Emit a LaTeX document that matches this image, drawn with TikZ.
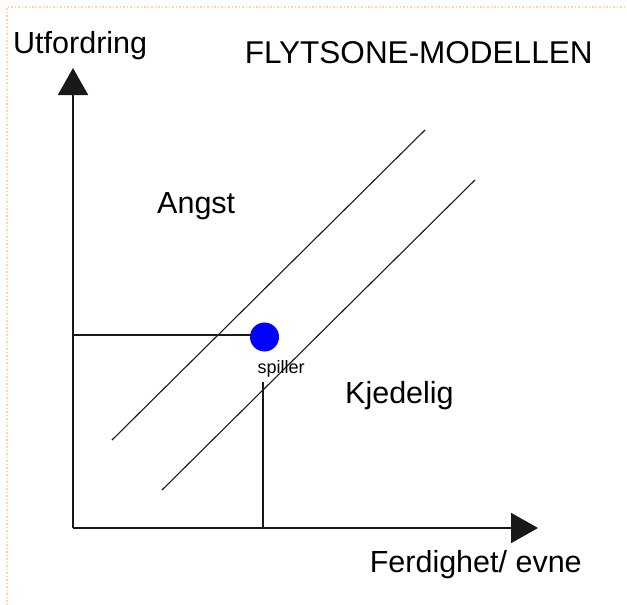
\documentclass[tikz,border=0pt]{standalone}
\usepackage{fontspec}
\setmainfont{Liberation Sans}
\usetikzlibrary{arrows.meta}
\definecolor{frameyel}{RGB}{255,214,140}
\definecolor{linegray}{RGB}{25,25,25}
\tikzset{
  lbl/.style={anchor=base west,inner sep=0pt,font=\fontsize{30.5}{36}\selectfont},
  ttl/.style={anchor=base west,inner sep=0pt,font=\fontsize{31.5}{36}\selectfont},
  smalllbl/.style={anchor=base west,inner sep=0pt,font=\fontsize{18}{22}\selectfont},
  axis/.style={draw=linegray,line width=2pt,-{Triangle[length=27pt,width=30pt]}},
  thin/.style={draw=linegray,line width=1.3pt},
  zone/.style={draw=linegray,line width=1.1pt}
}
\begin{document}
\begin{tikzpicture}[x=1pt,y=-1pt]
\useasboundingbox (0,0) rectangle (627,605);
\draw[frameyel,line width=1.5pt,dotted] (7,605) -- (7,7) -- (627,7);
% axes
\coordinate (O) at (73,528);
\coordinate (ytip) at (73,68);
\coordinate (xtip) at (538,528);
\draw[axis] (O) -- (ytip);
\draw[axis] (O) -- (xtip);
% zone lines
\coordinate (a1) at (112,440);
\coordinate (a2) at (425,130);
\coordinate (b1) at (162,490);
\coordinate (b2) at (475,180);
\draw[zone] (a1) -- (a2);
\draw[zone] (b1) -- (b2);
% player
\coordinate (h0) at (73,335);
\draw[thin] (h0) -- (264,335);
\node[circle,fill=blue,minimum size=29pt,inner sep=0pt] (dot) at (264.5,337) {};
\coordinate (v0) at (263,382);
\draw[thin] (v0) -- (v0 |- O);
% labels
\node[lbl] (uf) at (13,53) {Utfordring};
\node[ttl] (title) at (244.6,63) {FLYTSONE-MODELLEN};
\node[lbl] (angst) at (157,213) {Angst};
\node[lbl] (kj) at (345,403) {Kjedelig};
\node[lbl] (fe) at (369.6,572) {Ferdighet/ evne};
\node[smalllbl] (sp) at (257.5,373) {spiller};
\end{tikzpicture}
\end{document}
